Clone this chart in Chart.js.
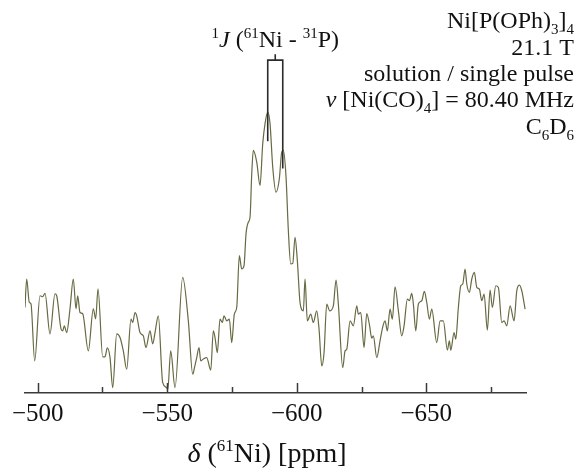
<!DOCTYPE html>
<html>
<head>
<meta charset="utf-8">
<script src="https://cdn.jsdelivr.net/npm/chart.js@4.4.1/dist/chart.umd.min.js"></script>
<style>
  html, body { margin: 0; padding: 0; background: #fff; }
  #wrap { width: 579px; height: 470px; position: relative; }
</style>
</head>
<body>
<div id="wrap"><canvas id="c" width="579" height="470"></canvas></div>
<script>
// ---- data (chemical shift in ppm, intensity in arbitrary units) ----
const shiftPpm = [
  -495.1, -495.75, -496.76, -497.4, -498.84, -500.89, -501.93, -502.82, -504.75, -506.68,
  -507.34, -509.0, -509.65, -510.27, -511.2, -512.47, -513.75, -514.79, -515.44, -516.33,
  -517.37, -519.54, -521.47, -522.39, -523.28, -525.1, -525.98, -526.87, -527.92, -528.96,
  -530.5, -531.78, -533.05, -534.36, -536.02, -536.68, -537.57, -538.22, -539.5, -540.77,
  -541.81, -543.36, -544.4, -545.29, -546.56, -548.26, -549.81, -550.2, -551.35, -553.01,
  -555.98, -558.15, -559.85, -560.5, -561.39, -562.28, -562.93, -563.94, -565.25, -566.8,
  -567.8, -568.46, -569.34, -570.39, -571.27, -571.93, -572.97, -573.98, -574.9, -575.91,
  -576.83, -577.84, -578.76, -579.65, -580.42, -581.31, -581.97, -582.63, -583.24, -584.56,
  -585.83, -586.87, -587.76, -588.8, -589.69, -590.73, -592.01, -593.28, -594.21, -594.83,
  -595.87, -596.76, -597.68, -598.46, -599.34, -600.23, -601.27, -602.55, -603.2, -604.09,
  -605.41, -606.41, -607.72, -608.61, -609.65, -610.54, -611.58, -612.7, -614.13, -615.17,
  -616.06, -617.76, -618.65, -619.31, -620.58, -621.85, -623.17, -623.78, -624.71, -625.98,
  -627.03, -628.03, -628.96, -629.57, -630.89, -632.16, -633.2, -634.09, -634.98, -636.02,
  -636.91, -637.95, -639.23, -640.54, -641.43, -642.7, -643.47, -644.4, -645.02, -645.95,
  -646.95, -648.26, -649.27, -650.19, -651.2, -652.12, -654.05, -655.33, -656.6, -658.15,
  -658.92, -659.46, -660.73, -661.39, -662.39, -663.32, -664.09, -664.98, -665.64, -666.64,
  -667.57, -668.57, -669.5, -670.5, -671.43, -672.32, -673.59, -674.63, -675.52, -676.83,
  -677.84, -679.15, -680.04, -681.08, -682.36, -683.9, -684.94, -685.95, -686.87, -688.15
];
const intensity = [
  85.3, 113.7, 90.3, 89, 32, 97, 96, 99.3, 59, 99,
  97, 64, 62, 67, 60.3, 84, 113.7, 84, 97, 80.3,
  79, 42, 84, 74, 104, 36, 36, 45, 35.3, 5.3,
  59, 55.3, 42, 23.7, 73.7, 70.3, 80.3, 77, 60.3, 57,
  45.3, 62, 49, 60.3, 77, 10.3, 5.3, 3, 42, 5.3,
  115.3, 72, 18.7, 25, 35.3, 45.3, 32, 34, 35.3, 22.7,
  62, 55.3, 40.3, 73.7, 70.3, 77, 72, 73.7, 50.3, 78.7,
  85.3, 137, 123.7, 127, 158.7, 170.3, 175.3, 218.7, 242, 230.3,
  207, 248.7, 268.7, 280.3, 268.7, 225.3, 200.3, 213.7, 240.3, 242,
  215.3, 162, 128.7, 129.3, 155.3, 132, 90.3, 82, 113.7, 72,
  78.7, 70.3, 82, 63.7, 27, 40.3, 88.7, 82, 87, 112.7,
  88.7, 25.3, 42, 43.7, 72, 67, 87, 78.7, 80.3, 45.3,
  79.3, 68.7, 54.7, 57, 35.3, 52, 66, 72, 62, 83.7,
  73.7, 106, 82, 57, 67, 93.7, 92, 99.3, 88.7, 62,
  88.7, 92, 101.3, 90.3, 73.7, 83.7, 50.3, 72, 72, 42.7,
  52, 42.7, 60.3, 53.7, 85.3, 107, 108.7, 123.7, 108.7, 100.3,
  113.7, 120.3, 105.3, 103.7, 92, 98.7, 62.7, 102.7, 85.3, 107,
  105.3, 70.3, 72, 67, 87, 72, 102, 107.7, 102, 83.7
];
const xRange = [-688.5, -495.1];       // ppm, drawn reversed (high field to the right)
const yRange = [0, 392];               // intensity, arbitrary units
const tickStep = 25;                    // ppm between tick marks
const labelStep = 50;                   // ppm between labelled ticks

// J-coupling bracket: ppm positions of the two lines and intensity levels of their ends
const jLinesPpm = [-588.8, -594.6];
const jLineBottoms = [251, 224];
const jBracketTop = 332;
const jBracketTick = 338;

// texts (runs: [text, 'sup'|'sub'|'', italic])
const axisTitle = [['δ', '', true], [' (', ''], ['61', 'sup'], ['Ni) [ppm]', '']];
const jLabel = [['1', 'sup'], ['J', '', true], [' (', ''], ['61', 'sup'], ['Ni - ', ''], ['31', 'sup'], ['P)', '']];
const infoLines = [
  [['Ni[P(OPh)', ''], ['3', 'sub'], [']', ''], ['4', 'sub']],
  [['21.1 T', '']],
  [['solution / single pulse', '']],
  [['ν', '', true], [' [Ni(CO)', ''], ['4', 'sub'], ['] = 80.40 MHz', '']],
  [['C', ''], ['6', 'sub'], ['D', ''], ['6', 'sub']]
];
const infoBaselines = [28, 55, 81, 107, 134];

const SERIF = '"Liberation Serif", "Times New Roman", serif';

function drawRuns(ctx, runs, x, y, align, size) {
  const f = r => (r[2] ? 'italic ' : '') + (r[1] ? Math.round(size * 0.62) : size) + 'px ' + SERIF;
  let w = 0;
  runs.forEach(r => { ctx.font = f(r); w += ctx.measureText(r[0]).width; });
  let cx = align === 'right' ? x - w : (align === 'center' ? x - w / 2 : x);
  runs.forEach(r => {
    ctx.font = f(r);
    const dy = r[1] === 'sup' ? -size * 0.38 : (r[1] === 'sub' ? size * 0.24 : 0);
    ctx.fillText(r[0], cx, y + dy);
    cx += ctx.measureText(r[0]).width;
  });
}

const decorPlugin = {
  id: 'decor',
  afterDraw(chart) {
    const ctx = chart.ctx, xs = chart.scales.x, ys = chart.scales.y, area = chart.chartArea;
    ctx.save();
    // inward tick marks
    ctx.strokeStyle = '#3a3a3a';
    ctx.lineWidth = 1.5;
    xs.ticks.forEach(t => {
      const px = Math.round(xs.getPixelForValue(t.value)) + 0.5;
      const major = Math.abs(t.value % labelStep) < 1e-6;
      ctx.beginPath();
      ctx.moveTo(px, area.bottom);
      ctx.lineTo(px, area.bottom - (major ? 10 : 6));
      ctx.stroke();
    });
    // J bracket
    ctx.strokeStyle = '#2b2b2b';
    ctx.lineWidth = 1.6;
    const xl = xs.getPixelForValue(jLinesPpm[0]);
    const xr = xs.getPixelForValue(jLinesPpm[1]);
    const yt = ys.getPixelForValue(jBracketTop);
    ctx.beginPath();
    ctx.moveTo(xl, ys.getPixelForValue(jLineBottoms[0]));
    ctx.lineTo(xl, yt);
    ctx.lineTo(xr, yt);
    ctx.lineTo(xr, ys.getPixelForValue(jLineBottoms[1]));
    ctx.moveTo((xl + xr) / 2, yt);
    ctx.lineTo((xl + xr) / 2, ys.getPixelForValue(jBracketTick));
    ctx.stroke();
    // texts
    ctx.fillStyle = '#111';
    ctx.textBaseline = 'alphabetic';
    drawRuns(ctx, jLabel, (xl + xr) / 2, 47, 'center', 24);
    infoLines.forEach((ln, i) => drawRuns(ctx, ln, 574, infoBaselines[i], 'right', 24));
    drawRuns(ctx, axisTitle, 267, 462, 'center', 28);
    ctx.restore();
  }
};

new Chart(document.getElementById('c'), {
  type: 'line',
  data: {
    datasets: [{
      data: shiftPpm.map((v, i) => ({ x: v, y: intensity[i] })),
      borderColor: '#676a42',
      borderWidth: 1.2,
      pointRadius: 0,
      cubicInterpolationMode: 'monotone',
      fill: false
    }]
  },
  options: {
    responsive: false,
    animation: false,
    events: [],
    layout: { autoPadding: false, padding: { left: 25, right: 53, top: 0, bottom: 35 } },
    plugins: { legend: { display: false }, tooltip: { enabled: false }, title: { display: false } },
    scales: {
      x: {
        type: 'linear',
        reverse: true,
        min: xRange[0],
        max: xRange[1],
        border: { display: true, color: '#3a3a3a', width: 1.5 },
        grid: { display: false, drawTicks: false, tickLength: 0 },
        ticks: {
          stepSize: tickStep,
          includeBounds: false,
          autoSkip: false,
          maxRotation: 0,
          padding: 6,
          color: '#111',
          font: { family: SERIF, size: 25 },
          callback: v => (Math.abs(v % labelStep) < 1e-6 ? String(v).replace('-', '\u2212') : '')
        }
      },
      y: { display: false, min: yRange[0], max: yRange[1] }
    }
  },
  plugins: [decorPlugin]
});
</script>
</body>
</html>
